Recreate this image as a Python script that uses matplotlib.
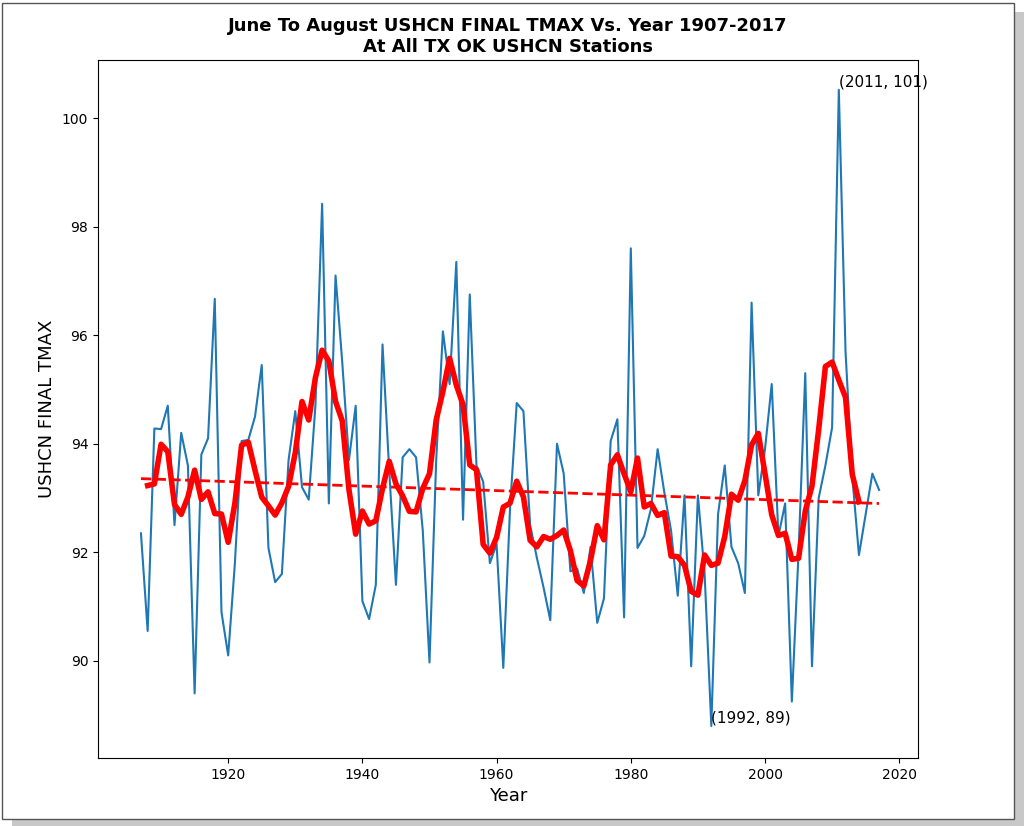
import numpy as np
import matplotlib
matplotlib.use("Agg")
import matplotlib.pyplot as plt
from matplotlib.patches import Rectangle

years = np.arange(1907, 2018)
tmax = [92.35, 90.55, 94.28, 94.27, 94.7, 92.5, 94.2, 93.6, 89.4, 93.8,
        94.1, 96.67, 90.9, 90.1, 91.8, 94.05, 94.07, 94.5, 95.45, 92.08,
        91.45, 91.6, 93.7, 94.6, 93.2, 92.97, 94.7, 98.42, 92.9, 97.1,
        95.5, 93.7, 94.7, 91.1, 90.77, 91.4, 95.83, 93.5, 91.4, 93.75,
        93.9, 93.75, 92.4, 89.97, 93.7, 96.07, 95.1, 97.35, 92.6, 96.75,
        93.6, 93.3, 91.8, 92.15, 89.87, 92.8, 94.75, 94.6, 92.5, 91.9,
        91.35, 90.75, 94.0, 93.45, 91.65, 91.7, 91.25, 92.1, 90.7, 91.15,
        94.05, 94.45, 90.8, 97.6, 92.08, 92.3, 92.8, 93.9, 93.1, 92.4,
        91.2, 93.05, 89.9, 93.05, 91.6, 88.8, 92.7, 93.6, 92.1, 91.8,
        91.25, 96.6, 93.05, 93.9, 95.1, 92.3, 92.9, 89.25, 92.0, 95.3,
        89.9, 93.0, 93.6, 94.3, 100.52, 95.7, 93.4, 91.95, 92.7, 93.45,
        93.15]
tmax = np.array(tmax)

fig = plt.figure(figsize=(10.24, 8.26), dpi=100)
fig.patches.append(Rectangle((0.012, 0.0), 0.988, 0.985, transform=fig.transFigure,
                             facecolor="#c8c8c8", edgecolor="none", zorder=-3))
fig.patches.append(Rectangle((0.002, 0.008), 0.988, 0.988, transform=fig.transFigure,
                             facecolor="white", edgecolor="#555555", lw=1, zorder=-2))
ax = fig.add_axes([98/1024, 1-758/826, (918-98)/1024, (758-60)/826])

ax.plot(years, tmax, color="#1f77b4", lw=1.5)
run = np.convolve(tmax, np.ones(5)/5, mode="valid")
ax.plot(years[1:-3], run, color="red", lw=4)
p = np.polyfit(years, tmax, 1)
ax.plot(years, np.polyval(p, years), "r--", lw=2)

imax = int(np.argmax(tmax)); imin = int(np.argmin(tmax))
ax.text(years[imax], tmax[imax], f"({years[imax]}, {int(np.floor(tmax[imax] + 0.5))})",
        fontsize=11, va="bottom", ha="left")
ax.text(years[imin], tmax[imin], f"({years[imin]}, {int(np.floor(tmax[imin] + 0.5))})",
        fontsize=11, va="bottom", ha="left")

ax.set_xlim(1900.6, 2022.8)
ax.set_ylim(88.21, 101.07)
ax.set_xticks([1920, 1940, 1960, 1980, 2000, 2020])
ax.set_yticks([90, 92, 94, 96, 98, 100])
ax.set_xlabel("Year", fontsize=13)
ax.set_ylabel("USHCN FINAL TMAX", fontsize=13)
ax.set_title("June To August USHCN FINAL TMAX Vs. Year 1907-2017\nAt All TX OK USHCN Stations",
             fontsize=13, fontweight="bold")
fig.savefig("out.png", dpi=100)
